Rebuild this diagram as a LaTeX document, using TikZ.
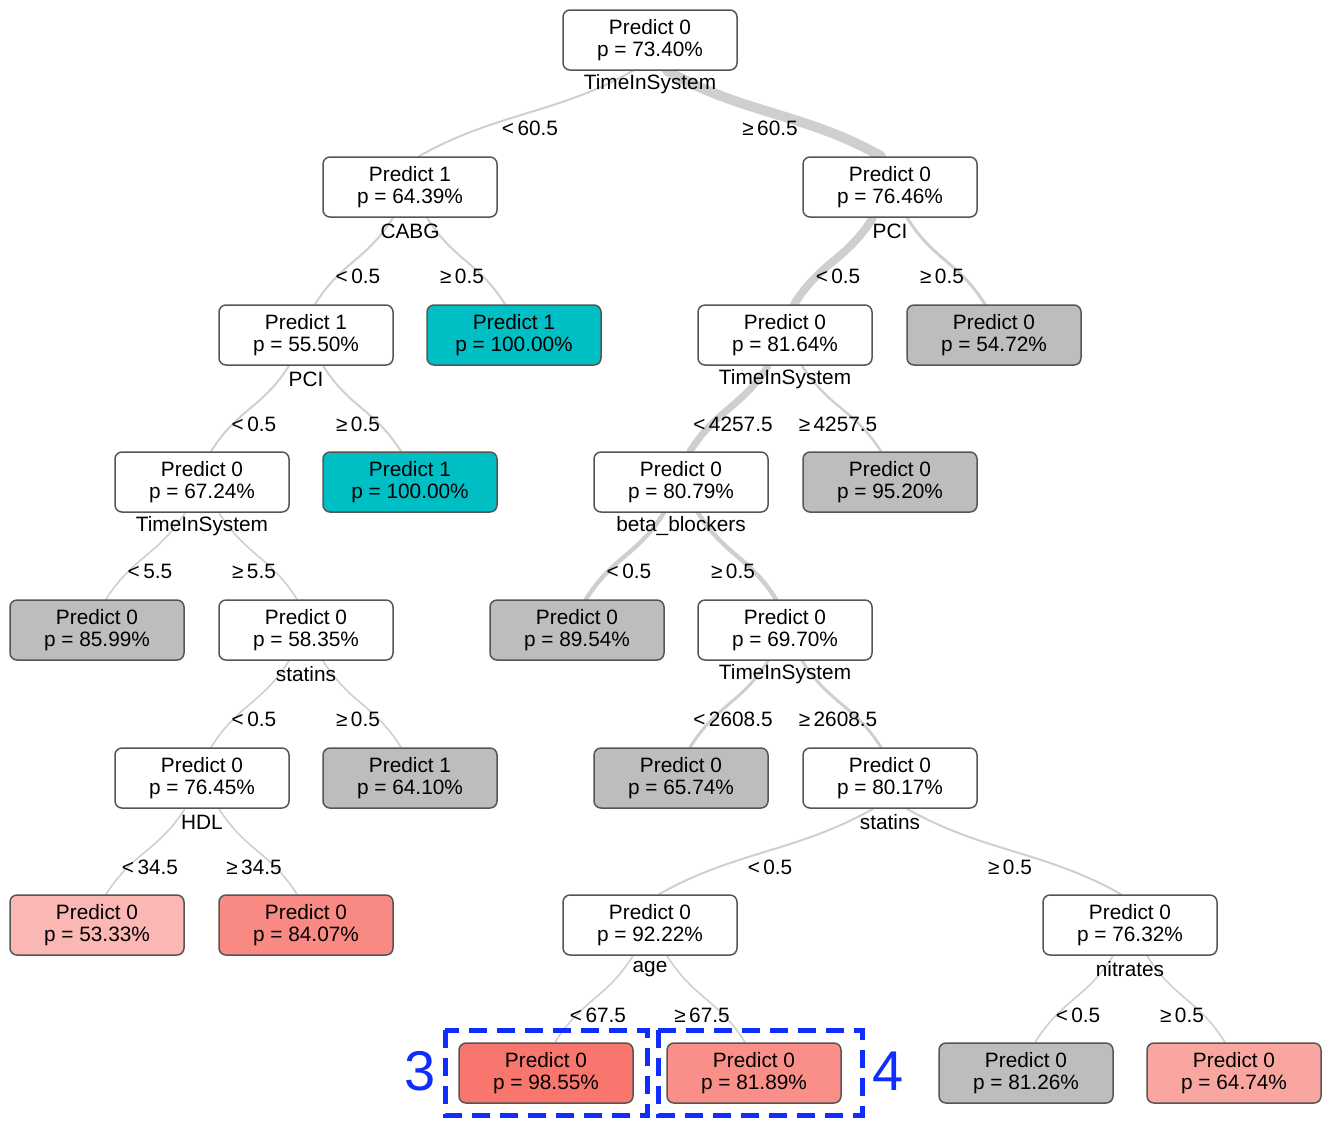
\documentclass[tikz,border=0pt]{standalone}
\usepackage{fontspec}
\setmainfont{Liberation Sans}
\usetikzlibrary{calc,backgrounds}
\definecolor{boxline}{HTML}{555555}
\definecolor{edgegray}{HTML}{CFCFCF}
\definecolor{leafgray}{HTML}{BDBDBD}
\definecolor{leafcyan}{HTML}{00BFC4}
\definecolor{red98}{HTML}{F8766D}
\definecolor{red84}{HTML}{F98A83}
\definecolor{red81}{HTML}{F98F88}
\definecolor{red64}{HTML}{FAA6A0}
\definecolor{red53}{HTML}{FBB7B3}
\definecolor{markblue}{RGB}{15,45,255}
\newcommand\tedge[5]{\draw[edgeline,line width=#1] let \p1=($(#2.south)+(#4,0)$), \p2=($(#3.north)+(#5,0)$) in (\p1) .. controls ({\x1+0.35*(\x2-\x1)},{0.5*(\y1+\y2)}) and ({\x1+0.65*(\x2-\x1)},{0.5*(\y1+\y2)}) .. (\p2);}
\begin{document}
\begin{tikzpicture}[x=0.5pt,y=-0.5pt,
  box/.style={draw=boxline, line width=0.75pt, rounded corners=3.5pt, minimum width=87pt, minimum height=30pt, align=center, inner sep=0pt, fill=white, font=\fontsize{10.4}{10.8}\selectfont},
  gleaf/.style={box, fill=leafgray},
  cleaf/.style={box, fill=leafcyan},
  varlab/.style={inner sep=0pt, font=\fontsize{10.4}{12}\selectfont},
  splitlab/.style={inner sep=0pt, font=\fontsize{10.4}{12}\selectfont},
  edgeline/.style={draw=edgegray, line cap=round},
  bluedash/.style={draw=markblue, line width=2.5pt, dash pattern=on 9pt off 5pt},
  numlab/.style={text=markblue, inner sep=0pt, font=\fontsize{28}{30}\selectfont}]
\useasboundingbox (0,0) rectangle (1325,1120);
% level 0
\node[box] (n0) at (650,40) {Predict 0\\p = 73.40\%};
% level 1
\node[box] (n1) at (410,187) {Predict 1\\p = 64.39\%};
\node[box] (n2) at (890,187) {Predict 0\\p = 76.46\%};
% level 2
\node[box] (n3) at (306,335) {Predict 1\\p = 55.50\%};
\node[cleaf] (n4) at (514,335) {Predict 1\\p = 100.00\%};
\node[box] (n5) at (785,335) {Predict 0\\p = 81.64\%};
\node[gleaf] (n6) at (994,335) {Predict 0\\p = 54.72\%};
% level 3
\node[box] (n7) at (202,482) {Predict 0\\p = 67.24\%};
\node[cleaf] (n8) at (410,482) {Predict 1\\p = 100.00\%};
\node[box] (n9) at (681,482) {Predict 0\\p = 80.79\%};
\node[gleaf] (n10) at (890,482) {Predict 0\\p = 95.20\%};
% level 4
\node[gleaf] (n11) at (97,630) {Predict 0\\p = 85.99\%};
\node[box] (n12) at (306,630) {Predict 0\\p = 58.35\%};
\node[gleaf] (n13) at (577,630) {Predict 0\\p = 89.54\%};
\node[box] (n14) at (785,630) {Predict 0\\p = 69.70\%};
% level 5
\node[box] (n15) at (202,778) {Predict 0\\p = 76.45\%};
\node[gleaf] (n16) at (410,778) {Predict 1\\p = 64.10\%};
\node[gleaf] (n17) at (681,778) {Predict 0\\p = 65.74\%};
\node[box] (n18) at (890,778) {Predict 0\\p = 80.17\%};
% level 6
\node[box, fill=red53] (n19) at (97,925) {Predict 0\\p = 53.33\%};
\node[box, fill=red84] (n20) at (306,925) {Predict 0\\p = 84.07\%};
\node[box] (n21) at (650,925) {Predict 0\\p = 92.22\%};
\node[box] (n22) at (1130,925) {Predict 0\\p = 76.32\%};
% level 7
\node[box, fill=red98] (n23) at (546,1073) {Predict 0\\p = 98.55\%};
\node[box, fill=red81] (n24) at (754,1073) {Predict 0\\p = 81.89\%};
\node[gleaf] (n25) at (1026,1073) {Predict 0\\p = 81.26\%};
\node[box, fill=red64] (n26) at (1234,1073) {Predict 0\\p = 64.74\%};
% split variable labels
\node[varlab] (v0) at (650,84) {TimeInSystem};
\node[varlab] (v1) at (410,231) {CABG};
\node[varlab] (v2) at (890,231) {PCI};
\node[varlab] (v3) at (306,379) {PCI};
\node[varlab] (v5) at (785,379) {TimeInSystem};
\node[varlab] (v7) at (202,526) {TimeInSystem};
\node[varlab] (v9) at (681,526) {beta\_blockers};
\node[varlab] (v12) at (306,674) {statins};
\node[varlab] (v14) at (785,674) {TimeInSystem};
\node[varlab] (v15) at (202,822) {HDL};
\node[varlab] (v18) at (890,822) {statins};
\node[varlab] (v21) at (650,969) {age};
\node[varlab] (v22) at (1130,969) {nitrates};
% split value labels
\node[splitlab] (e1) at (530,128) {<\,60.5};
\node[splitlab] (e2) at (770,128) {≥\,60.5};
\node[splitlab] (e3) at (358,276) {<\,0.5};
\node[splitlab] (e4) at (462,276) {≥\,0.5};
\node[splitlab] (e5) at (838,276) {<\,0.5};
\node[splitlab] (e6) at (942,276) {≥\,0.5};
\node[splitlab] (e7) at (254,424) {<\,0.5};
\node[splitlab] (e8) at (358,424) {≥\,0.5};
\node[splitlab] (e9) at (733,424) {<\,4257.5};
\node[splitlab] (e10) at (838,424) {≥\,4257.5};
\node[splitlab] (e11) at (150,571) {<\,5.5};
\node[splitlab] (e12) at (254,571) {≥\,5.5};
\node[splitlab] (e13) at (629,571) {<\,0.5};
\node[splitlab] (e14) at (733,571) {≥\,0.5};
\node[splitlab] (e15) at (254,719) {<\,0.5};
\node[splitlab] (e16) at (358,719) {≥\,0.5};
\node[splitlab] (e17) at (733,719) {<\,2608.5};
\node[splitlab] (e18) at (838,719) {≥\,2608.5};
\node[splitlab] (e19) at (150,867) {<\,34.5};
\node[splitlab] (e20) at (254,867) {≥\,34.5};
\node[splitlab] (e21) at (770,867) {<\,0.5};
\node[splitlab] (e22) at (1010,867) {≥\,0.5};
\node[splitlab] (e23) at (598,1015) {<\,67.5};
\node[splitlab] (e24) at (702,1015) {≥\,67.5};
\node[splitlab] (e25) at (1078,1015) {<\,0.5};
\node[splitlab] (e26) at (1182,1015) {≥\,0.5};
% connectors
\begin{scope}[on background layer]
\tedge{1pt}{n0}{n1}{-8.5pt}{4.5pt}
\tedge{5pt}{n0}{n2}{8.5pt}{-4.5pt}
\tedge{1pt}{n1}{n3}{-8.5pt}{4.5pt}
\tedge{1pt}{n1}{n4}{8.5pt}{-4.5pt}
\tedge{4pt}{n2}{n5}{-8.5pt}{4.5pt}
\tedge{1.5pt}{n2}{n6}{8.5pt}{-4.5pt}
\tedge{1pt}{n3}{n7}{-8.5pt}{4.5pt}
\tedge{1pt}{n3}{n8}{8.5pt}{-4.5pt}
\tedge{3.5pt}{n5}{n9}{-8.5pt}{4.5pt}
\tedge{1.2pt}{n5}{n10}{8.5pt}{-4.5pt}
\tedge{0.8pt}{n7}{n11}{-8.5pt}{4.5pt}
\tedge{0.8pt}{n7}{n12}{8.5pt}{-4.5pt}
\tedge{2.2pt}{n9}{n13}{-8.5pt}{4.5pt}
\tedge{2.2pt}{n9}{n14}{8.5pt}{-4.5pt}
\tedge{0.8pt}{n12}{n15}{-8.5pt}{4.5pt}
\tedge{0.8pt}{n12}{n16}{8.5pt}{-4.5pt}
\tedge{1.5pt}{n14}{n17}{-8.5pt}{4.5pt}
\tedge{1.5pt}{n14}{n18}{8.5pt}{-4.5pt}
\tedge{0.8pt}{n15}{n19}{-8.5pt}{4.5pt}
\tedge{0.8pt}{n15}{n20}{8.5pt}{-4.5pt}
\tedge{1pt}{n18}{n21}{-8.5pt}{4.5pt}
\tedge{1pt}{n18}{n22}{8.5pt}{-4.5pt}
\tedge{0.8pt}{n21}{n23}{-8.5pt}{4.5pt}
\tedge{0.8pt}{n21}{n24}{8.5pt}{-4.5pt}
\tedge{0.8pt}{n22}{n25}{-8.5pt}{4.5pt}
\tedge{0.8pt}{n22}{n26}{8.5pt}{-4.5pt}
\end{scope}
% highlight boxes
\draw[bluedash] (445,1030) rectangle (647,1115);
\draw[bluedash] (658,1030) rectangle (862,1115);
\node[numlab] (lab3) at (420,1071) {3};
\node[numlab] (lab4) at (888,1071) {4};
\end{tikzpicture}
\end{document}
